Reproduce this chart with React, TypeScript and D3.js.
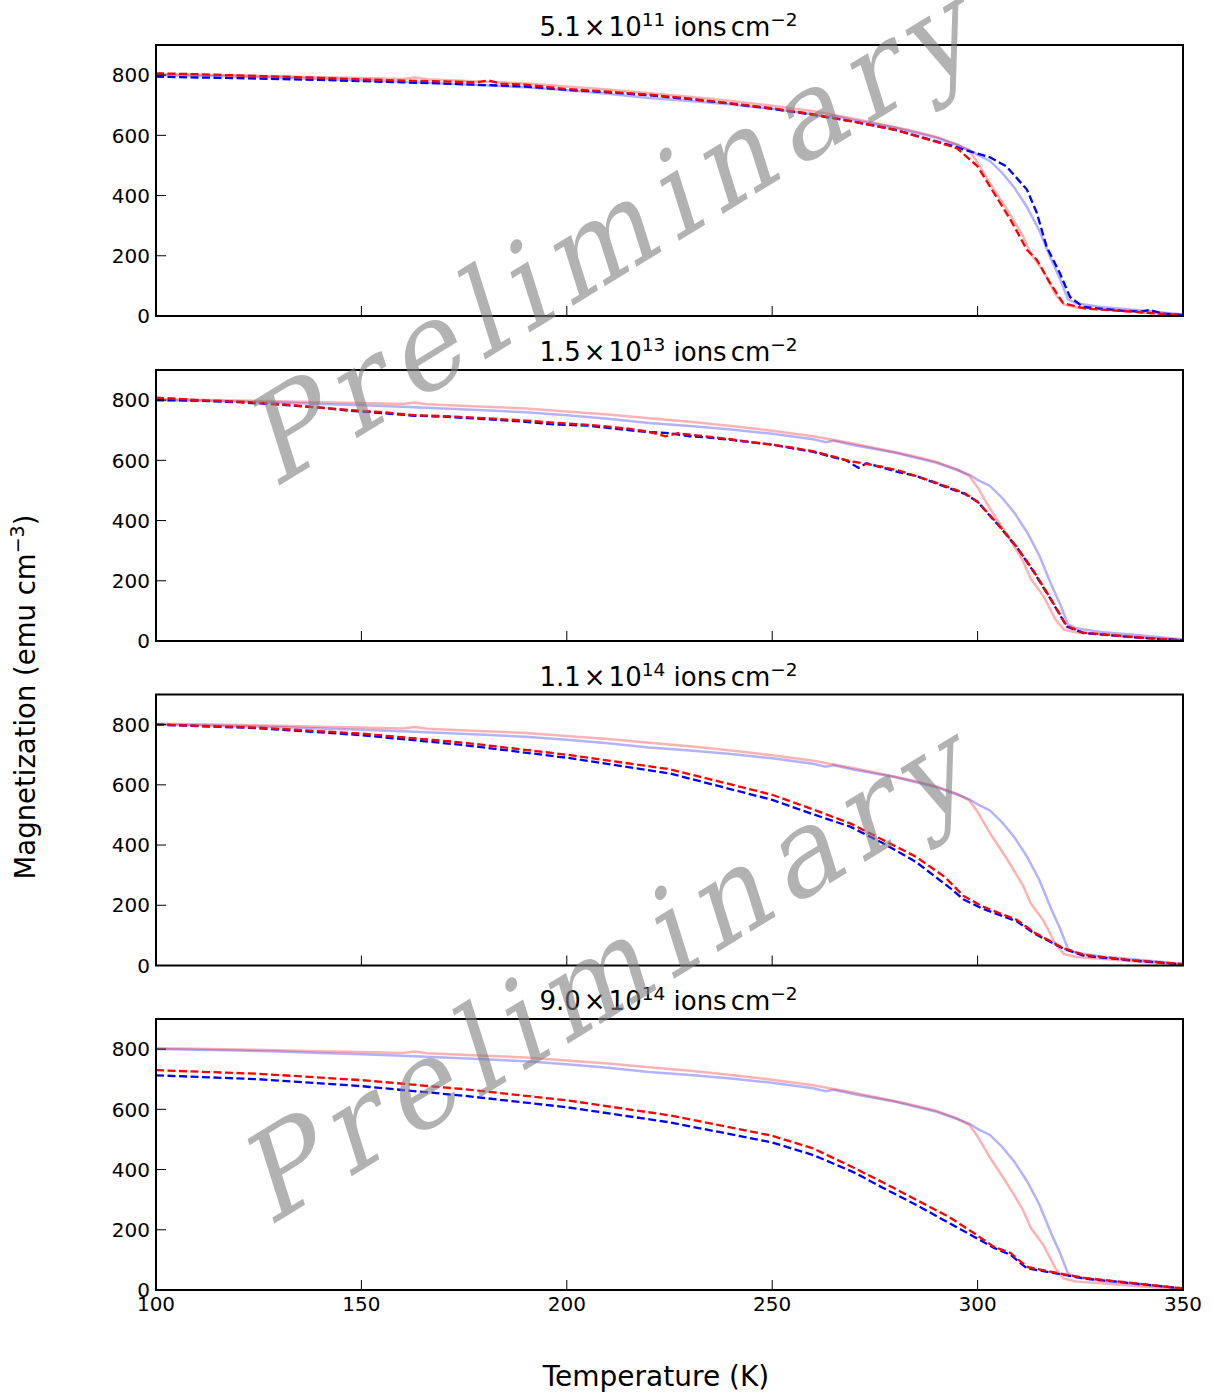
import React from "react";
import * as d3 from "d3";

type Pt = [number, number];

// fluence labels for the four panels
const fluenceMantissa = ["5.1", "1.5", "1.1", "9.0"];
const fluenceExponent = ["11", "13", "14", "14"];

const xTicks = [100, 150, 200, 250, 300, 350];
const yTicks = [0, 200, 400, 600, 800];

// pristine reference curves (light, shown in every panel)
const pristineRed: Pt[] = [
  [100, 803], [110, 801], [120, 799], [130, 796], [140, 793], [150, 790], [155, 789], [160, 787], [163, 792], [166, 786],
  [170, 784], [180, 778], [190, 772], [200, 762], [210, 752], [220, 740], [230, 728], [240, 714], [250, 698], [260, 680],
  [270, 655], [280, 627], [285, 612], [290, 595], [295, 570], [298, 548], [300, 510], [303, 440], [307, 357], [311, 267],
  [313, 205], [316, 150], [319, 70], [321, 38], [324, 28], [330, 22], [340, 12], [350, 3],
];
const pristineBlue: Pt[] = [
  [100, 800], [110, 798], [120, 795], [130, 792], [140, 787], [150, 783], [160, 778], [170, 772], [180, 766], [190, 760],
  [200, 750], [210, 738], [220, 724], [230, 714], [240, 702], [250, 688], [260, 670], [263, 660], [265, 665], [270, 650],
  [280, 625], [290, 592], [295, 568], [298, 552], [300, 535], [303, 515], [306, 475], [309, 425], [312, 362], [315, 285],
  [318, 185], [320, 125], [322, 55], [324, 42], [330, 30], [340, 18], [350, 5],
];

// irradiated curves (dashed)
const red1: Pt[] = [
  [100, 806], [110, 803], [120, 799], [130, 795], [140, 791], [150, 786], [160, 782], [170, 779], [178, 776], [181, 782],
  [184, 772], [190, 768], [200, 754], [210, 745], [220, 735], [230, 722], [240, 706], [250, 690], [260, 670], [270, 645],
  [280, 618], [290, 578], [295, 557], [300, 497], [303, 430], [308, 320], [312, 220], [314.4, 187], [317.6, 110], [320.8, 43],
  [326, 25], [335, 17], [345, 7], [350, 3],
];
const blue1: Pt[] = [
  [100, 795], [110, 792], [120, 790], [130, 787], [140, 784], [150, 780], [160, 776], [170, 772], [180, 767], [190, 762],
  [200, 751], [210, 743], [220, 733], [230, 720], [240, 705], [250, 688], [260, 668], [270, 645], [280, 618], [290, 580],
  [295, 560], [299, 543], [303, 527], [307, 497], [312, 420], [314.4, 343], [316.8, 230], [320, 143], [322.5, 63], [325.7, 30],
  [335, 18], [340, 15], [342, 20], [345, 8], [350, 3],
];
const red2: Pt[] = [
  [100, 808], [105, 805], [110, 800], [120, 795], [130, 787], [140, 775], [147, 767], [155, 760], [163, 750], [170, 747],
  [180, 740], [190, 732], [196, 726], [205, 718], [210, 712], [215, 705], [220, 695], [224, 680], [227, 690], [235, 678],
  [240, 670], [245, 660], [250, 652], [255, 642], [260, 630], [265, 612], [269, 597], [272, 590], [277, 578], [281, 565],
  [285, 548], [289, 530], [293, 510], [297, 490], [300, 462], [304.7, 392], [309.5, 313], [313.5, 235], [317.6, 145], [321.7, 50],
  [325.7, 28], [338, 13], [350, 2],
];
const blue2: Pt[] = [
  [100, 800], [110, 798], [120, 793], [130, 785], [140, 775], [147, 765], [155, 757], [163, 748], [170, 745], [180, 737],
  [190, 728], [196, 720], [205, 715], [210, 708], [215, 700], [220, 694], [225, 690], [230, 680], [235, 675], [240, 668],
  [245, 660], [250, 652], [255, 640], [260, 628], [265, 610], [268, 600], [271, 575], [273, 590], [277, 575], [281, 560],
  [285, 548], [289, 528], [293, 508], [297, 488], [300, 462], [304.7, 390], [309.5, 312], [313.5, 233], [317.6, 143], [321.7, 48],
  [325.7, 27], [338, 12], [350, 2],
];
const red3: Pt[] = [
  [100, 800], [125, 790], [150, 770], [175, 740], [200, 700], [225, 652], [250, 567], [260, 518], [269, 472], [277, 417],
  [285, 361], [292, 294], [296.5, 232], [301, 197], [309.5, 152], [314, 108], [321, 57], [326, 35], [338, 17], [350, 5],
];
const blue3: Pt[] = [
  [100, 800], [125, 788], [150, 765], [175, 732], [200, 690], [225, 638], [250, 550], [260, 502], [269, 461], [277, 406],
  [285, 344], [294, 250], [296.5, 220], [301, 190], [309.5, 147], [314, 105], [321, 55], [326, 32], [338, 16], [350, 4],
];
const red4: Pt[] = [
  [100, 730], [125, 718], [150, 697], [175, 667], [200, 630], [225, 580], [250, 512], [260, 470], [270, 405], [277, 357],
  [285, 300], [293, 243], [299, 190], [304, 143], [308, 123], [312, 77], [318, 60], [326, 40], [338, 23], [350, 5],
];
const blue4: Pt[] = [
  [100, 713], [125, 700], [150, 677], [175, 645], [200, 607], [225, 557], [250, 490], [260, 448], [270, 390], [277, 339],
  [285, 283], [293, 223], [299, 178], [304, 140], [308, 117], [312, 72], [318, 58], [326, 38], [338, 22], [350, 5],
];

const irradiatedRed = [red1, red2, red3, red4];
const irradiatedBlue = [blue1, blue2, blue3, blue4];

const FONT = "DejaVu Sans, sans-serif";

export default function App() {
  const W = 1212;
  const H = 1392;
  const left = 156;
  const right = 1183;
  const tops = [45, 370, 694.5, 1019];
  const ph = 271;

  const x = d3.scaleLinear().domain([100, 350]).range([left, right]);

  const panels = tops.map((top, i) => {
    const y = d3.scaleLinear().domain([0, 900]).range([top + ph, top]);
    const line = d3
      .line<Pt>()
      .x((d) => x(d[0]))
      .y((d) => y(d[1]));
    const clipId = `clip${i}`;
    return (
      <g key={i}>
        <defs>
          <clipPath id={clipId}>
            <rect x={left} y={top} width={right - left} height={ph} />
          </clipPath>
        </defs>
        <g clipPath={`url(#${clipId})`}>
          <path d={line(pristineBlue) || ""} fill="none" stroke="blue" strokeOpacity={0.3} strokeWidth={2.5} />
          <path d={line(pristineRed) || ""} fill="none" stroke="red" strokeOpacity={0.3} strokeWidth={2.5} />
          <path d={line(irradiatedBlue[i]) || ""} fill="none" stroke="blue" strokeWidth={2.3} strokeDasharray="8,3.5" />
          <path d={line(irradiatedRed[i]) || ""} fill="none" stroke="red" strokeWidth={2.3} strokeDasharray="8,3.5" />
        </g>
        {xTicks.slice(1, -1).map((t) => (
          <line key={"xt" + t} x1={x(t)} x2={x(t)} y1={top + ph} y2={top + ph - 10} stroke="black" strokeWidth={1} />
        ))}
        {yTicks.map((t) => (
          <g key={"yt" + t}>
            <line x1={left} x2={left + 10} y1={y(t)} y2={y(t)} stroke="black" strokeWidth={1} />
            <text x={left - 6} y={y(t)} dy="0.36em" textAnchor="end" fontSize={20} fontFamily={FONT}>
              {t}
            </text>
          </g>
        ))}
        {i === 3 &&
          xTicks.map((t) => (
            <text key={"xl" + t} x={x(t)} y={top + ph + 21} textAnchor="middle" fontSize={20} fontFamily={FONT}>
              {t}
            </text>
          ))}
        <rect x={left} y={top} width={right - left} height={ph} fill="none" stroke="black" strokeWidth={2} />
        <text x={(left + right) / 2 - 1} y={top - 9} textAnchor="middle" fontSize={26} fontFamily={FONT}>
          {fluenceMantissa[i]}
          <tspan dx={3}>×</tspan>
          <tspan dx={3}>10</tspan>
          <tspan fontSize={18.5} dy={-10}>{fluenceExponent[i]}</tspan>
          <tspan dy={10}> ions</tspan>
          <tspan dx={4}>cm</tspan>
          <tspan fontSize={18.5} dy={-10}>−2</tspan>
        </text>
      </g>
    );
  });

  const wm = (cx: number, cy: number) => (
    <g transform={`translate(${cx},${cy}) rotate(-31.5) skewX(-14)`}>
      <text
        x={0}
        y={0}
        textAnchor="middle"
        dominantBaseline="central"
        fontFamily="DejaVu Serif, serif"
        fontSize={118}
        textLength={830}
        lengthAdjust="spacing"
        fill="#808080"
        opacity={0.6}
      >
        Preliminary
      </text>
    </g>
  );

  return (
    <svg
      width={W}
      height={H}
      style={{ position: "absolute", left: 0, top: 0, display: "block", background: "white" }}
    >
      <rect x={0} y={0} width={W} height={H} fill="white" />
      {panels}
      <text x={656} y={1386} textAnchor="middle" fontSize={28} fontFamily={FONT}>
        Temperature (K)
      </text>
      <text transform="translate(35,697) rotate(-90)" textAnchor="middle" fontSize={27.5} fontFamily={FONT}>
        Magnetization (emu cm
        <tspan fontSize={19} dy={-11}>−3</tspan>
        <tspan dy={11}>)</tspan>
      </text>
      {wm(615, 232)}
      {wm(610, 970)}
    </svg>
  );
}
